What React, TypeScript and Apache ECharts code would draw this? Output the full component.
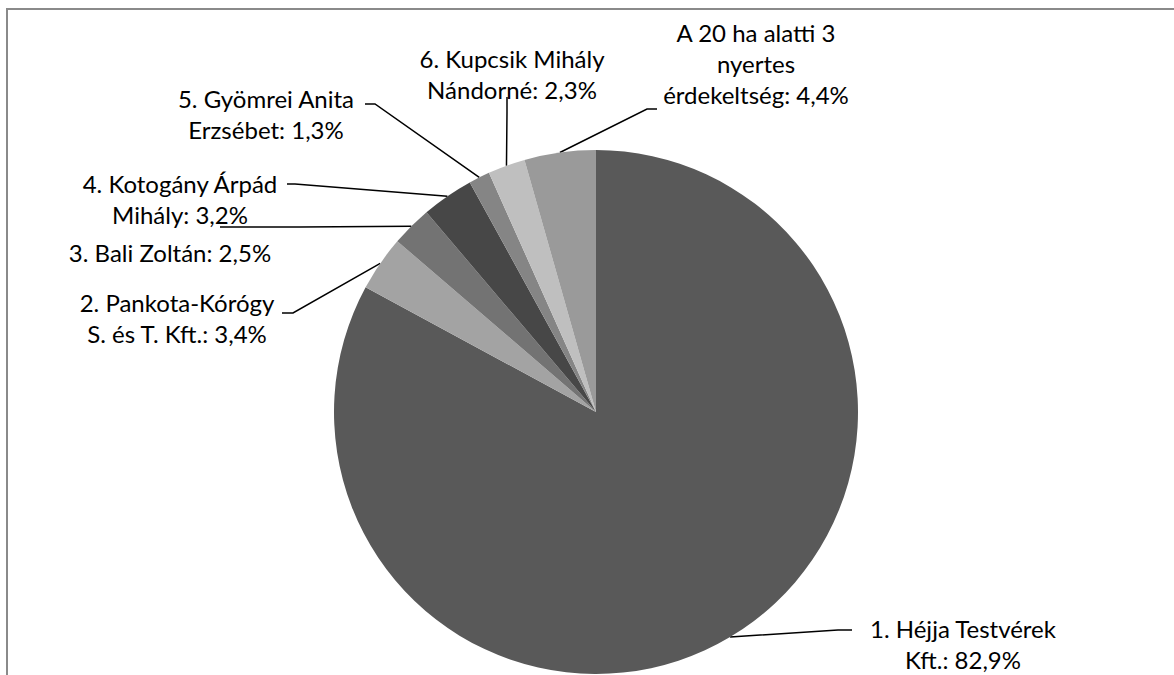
import React, { useEffect, useRef } from "react";
import * as echarts from "echarts";

const names = [
  "1. Héjja Testvérek\nKft.",
  "2. Pankota-Kórógy\nS. és T. Kft.",
  "3. Bali Zoltán",
  "4. Kotogány Árpád\nMihály",
  "5. Gyömrei Anita\nErzsébet",
  "6. Kupcsik Mihály\nNándorné",
  "A 20 ha alatti 3\nnyertes\nérdekeltség",
];
const values = [82.9, 3.4, 2.5, 3.2, 1.3, 2.3, 4.4];
const valueLabels = ["82,9%", "3,4%", "2,5%", "3,2%", "1,3%", "2,3%", "4,4%"];
const colors = ["#595959", "#a3a3a3", "#737373", "#474747", "#858585", "#bfbfbf", "#9a9a9a"];

// label placement (layout only)
const labelPos: [number, number][] = [
  [963, 644],
  [177, 318],
  [170, 252],
  [180, 199],
  [266, 114],
  [512, 74],
  [756, 63],
];
const lineBends: [number, number][][] = [
  [[838, 630], [852, 630]],
  [[293, 313], [282, 313]],
  [[300, 227], [220, 227]],
  [[295, 184], [287, 184]],
  [[375, 104], [365, 104]],
  [[507, 112], [507, 97]],
  [[647, 109], [657, 109]],
];

export default function App() {
  const ref = useRef<HTMLDivElement>(null);
  useEffect(() => {
    if (!ref.current) return;
    const chart = echarts.init(ref.current, null, { renderer: "svg" });
    chart.setOption({
      animation: false,
      backgroundColor: "#ffffff",
      graphic: [
        {
          type: "rect",
          shape: { x: 7, y: 9, width: 1300, height: 800 },
          style: { fill: "none", stroke: "#8a8a8a", lineWidth: 2 },
          silent: true,
        },
      ],
      series: [
        {
          type: "pie",
          center: [596, 412],
          radius: [0, 262],
          startAngle: 90,
          clockwise: true,
          avoidLabelOverlap: false,
          itemStyle: { borderWidth: 0 },
          data: names.map((n, i) => ({
            name: n,
            value: values[i],
            itemStyle: { color: colors[i] },
          })),
          label: {
            show: true,
            position: "outside",
            formatter: (p: any) => `${p.name}: ${valueLabels[p.dataIndex]}`,
            fontFamily: "Lato",
            fontSize: 24,
            lineHeight: 31,
            color: "#000",
            align: "center",
          },
          labelLine: {
            show: true,
            length: 20,
            length2: 10,
            lineStyle: { color: "#000", width: 1.5 },
          },
          labelLayout: (p: any) => {
            const i = p.dataIndex;
            const pts = p.labelLinePoints;
            const start = pts ? pts[0] : [0, 0];
            return {
              x: labelPos[i][0],
              y: labelPos[i][1],
              align: "center",
              verticalAlign: "middle",
              labelLinePoints: [start, lineBends[i][0], lineBends[i][1]],
            };
          },
        },
      ],
    });
    return () => chart.dispose();
  }, []);
  return (
    <div
      ref={ref}
      style={{ position: "fixed", left: 0, top: 0, width: 1174, height: 675 }}
    />
  );
}
